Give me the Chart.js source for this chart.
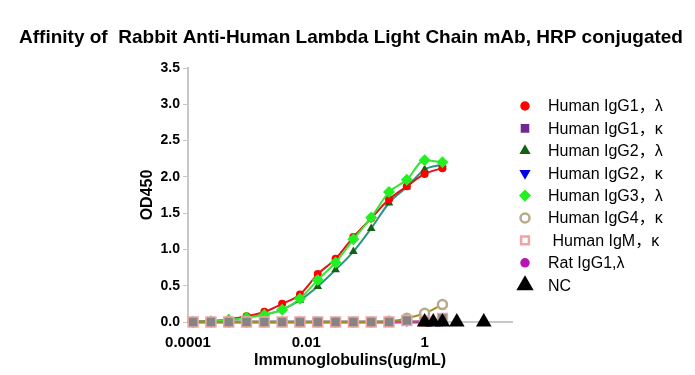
<!DOCTYPE html>
<html>
<head>
<meta charset="utf-8">
<script src="https://cdn.jsdelivr.net/npm/chart.js@4/dist/chart.umd.min.js"></script>
<style>
  body { margin: 0; background: #fff; }
  #wrap { width: 695px; height: 375px; }
</style>
</head>
<body>
<div id="wrap"><canvas id="affinityChart" width="695" height="375"></canvas></div>
<script>
// concentrations (ug/mL), 2-fold dilution from 2
const concentrations = [0.000122, 0.000244, 0.000488, 0.000977, 0.00195, 0.0039, 0.0078, 0.0156, 0.03125, 0.0625, 0.125, 0.25, 0.5, 1, 2];

// OD450
const igg1Lambda = [0.0, 0.01, 0.03, 0.08, 0.14, 0.25, 0.38, 0.66, 0.87, 1.17, 1.43, 1.69, 1.87, 2.04, 2.12];
const igg1Kappa  = [0, 0, 0, 0, 0, 0, 0, 0, 0, 0, 0, 0, 0, 0, 0];
const igg2Lambda = [0.0, 0.01, 0.04, 0.07, 0.10, 0.17, 0.30, 0.49, 0.72, 0.97, 1.29, 1.64, 1.86, 2.10, 2.17];
const igg2Kappa  = [0, 0, 0, 0, 0, 0, 0, 0, 0, 0, 0, 0, 0, 0, 0];
const igg3Lambda = [0.0, 0.01, 0.03, 0.06, 0.10, 0.17, 0.32, 0.58, 0.82, 1.14, 1.44, 1.79, 1.96, 2.23, 2.20];
const igg4Kappa  = [0, 0, 0, 0, 0, 0, 0, 0, 0, 0, 0, 0.01, 0.05, 0.12, 0.24];
const igmKappa   = [0, 0, 0, 0, 0, 0, 0, 0, 0, 0, 0, 0, 0.02, 0.01, 0.05];
const ratIgg1    = [0, 0, 0, 0, 0, 0, 0, 0, 0, 0, 0, 0, 0, 0.01, 0.03];

// negative control
const ncConcentrations = [1, 1.4, 2, 3.5, 10];
const ncOD = [0, 0, 0, 0, 0];

const seriesNames = ["Human IgG1，λ", "Human IgG1，κ", "Human IgG2，λ", "Human IgG2，κ", "Human IgG3，λ", "Human IgG4，κ", " Human IgM，κ", "Rat IgG1,λ", "NC"];
const xTickValues = [0.0001, 0.01, 1];

const FONT = 'Arial, "Liberation Sans", "Noto Sans CJK SC", sans-serif';

function toPoints(xs, ys) {
  return xs.map((x, i) => ({ x: x, y: ys[i] }));
}

function line(label, values, opts) {
  return Object.assign({
    label: label,
    data: toPoints(concentrations, values),
    borderWidth: 2,
    pointBorderWidth: 0,
    cubicInterpolationMode: "monotone",
    fill: false,
    clip: false
  }, opts);
}

const datasets = [
  line(seriesNames[0], igg1Lambda, { borderColor: "#e01515", backgroundColor: "#ff0000", pointStyle: "circle", pointRadius: 4, order: 3 }),
  line(seriesNames[1], igg1Kappa, { borderColor: "#606060", backgroundColor: "#702890", pointStyle: "rect", pointRadius: 5, borderWidth: 3, order: 9 }),
  line(seriesNames[2], igg2Lambda, { borderColor: "#2a9584", backgroundColor: "#116311", pointStyle: "triangle", pointRadius: 5, order: 4 }),
  line(seriesNames[3], igg2Kappa, { borderColor: "#666666", backgroundColor: "#0000ee", pointStyle: "triangle", rotation: 180, pointRadius: 5, showLine: false, order: 8 }),
  line(seriesNames[4], igg3Lambda, { borderColor: "#35e635", backgroundColor: "#22f022", pointStyle: "rectRot", pointRadius: 6, order: 2 }),
  line(seriesNames[5], igg4Kappa, { borderColor: "#9c9222", backgroundColor: "#ffffff", pointBorderColor: "#b8aa8a", pointBorderWidth: 2.5, pointStyle: "circle", pointRadius: 4.5, order: 1 }),
  line(seriesNames[6], igmKappa, { borderColor: "#f2a4a4", backgroundColor: "#858585", pointBorderColor: "#f2a4a4", pointBorderWidth: 1.5, pointStyle: "rect", pointRadius: 7, showLine: false, legendFill: "#ffffff", legendBorder: 2.5, legendRadius: 5.5, order: 0 }),
  line(seriesNames[7], ratIgg1, { borderColor: "#d040a0", backgroundColor: "#b515b5", pointStyle: "circle", pointRadius: 3.5, order: 5 }),
  {
    label: seriesNames[8],
    data: toPoints(ncConcentrations, ncOD),
    showLine: false,
    clip: false,
    backgroundColor: "#000000",
    borderColor: "#000000",
    pointStyle: "triangle",
    pointRadius: 9,
    pointBorderWidth: 0,
    legendRadius: 7.5,
    order: -1
  }
];

// title and right-hand legend drawn on the canvas
const sidePlugin = {
  id: "sidePlugin",
  afterDraw(chart) {
    const ctx = chart.ctx;
    ctx.save();
    ctx.fillStyle = "#000";
    ctx.textAlign = "center";
    ctx.textBaseline = "middle";
    ctx.font = "bold 19px " + FONT;
    ctx.fillText("Affinity of  Rabbit Anti-Human Lambda Light Chain mAb, HRP conjugated", 351, 38);

    ctx.textAlign = "left";
    ctx.font = "16px " + FONT;
    chart.data.datasets.forEach((ds, i) => {
      const y = 106 + i * 22.4;
      ctx.fillStyle = ds.legendFill || ds.backgroundColor;
      ctx.strokeStyle = ds.pointBorderColor || ds.backgroundColor;
      ctx.lineWidth = ds.legendBorder || ds.pointBorderWidth || 0;
      const r = ds.legendRadius || Math.min(ds.pointRadius, 5);
      const opts = { pointStyle: ds.pointStyle, radius: r, rotation: ds.rotation || 0, borderWidth: ctx.lineWidth };
      if (Chart.helpers && Chart.helpers.drawPoint) {
        Chart.helpers.drawPoint(ctx, opts, 525, y);
      } else {
        ctx.beginPath();
        ctx.arc(525, y, r, 0, Math.PI * 2);
        ctx.fill();
      }
      ctx.fillStyle = "#000";
      ctx.fillText(ds.label, 548, y + 1);
    });
    ctx.restore();
  }
};

new Chart(document.getElementById("affinityChart"), {
  type: "line",
  data: { datasets: datasets },
  options: {
    responsive: false,
    animation: false,
    layout: { padding: { left: 125, right: 183, top: 68, bottom: 0 } },
    plugins: {
      legend: { display: false },
      tooltip: { enabled: false }
    },
    scales: {
      x: {
        type: "logarithmic",
        min: 0.0001,
        max: 30,
        afterBuildTicks: s => { s.ticks = xTickValues.map(v => ({ value: v })); },
        afterFit: s => { s.height = 53; },
        grid: { display: false, drawTicks: false },
        border: { display: true, color: "#c8c8c8", width: 2 },
        ticks: {
          padding: 12,
          color: "#000",
          font: { family: FONT, size: 15, weight: "bold" },
          callback: v => String(v)
        },
        title: {
          display: true,
          text: "Immunoglobulins(ug/mL)",
          color: "#000",
          font: { family: FONT, size: 16, weight: "bold" },
          padding: { top: 0, bottom: 5 }
        }
      },
      y: {
        min: 0,
        max: 3.5,
        afterFit: s => { s.width = 63; },
        grid: { display: true, drawOnChartArea: false, drawTicks: true, tickLength: 5, color: "#c8c8c8" },
        border: { display: true, color: "#c8c8c8", width: 2 },
        ticks: {
          stepSize: 0.5,
          padding: 3,
          color: "#000",
          font: { family: FONT, size: 14, weight: "bold" },
          callback: v => v.toFixed(1)
        },
        title: {
          display: true,
          text: "OD450",
          color: "#000",
          font: { family: FONT, size: 16, weight: "bold" },
          padding: { top: 13, bottom: 0 }
        }
      }
    }
  },
  plugins: [sidePlugin]
});
</script>
</body>
</html>
